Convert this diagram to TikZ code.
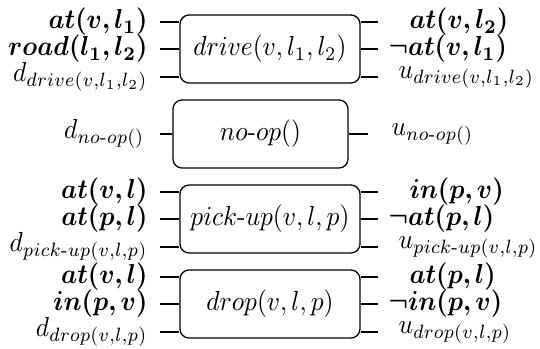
\documentclass[tikz,border=0pt]{standalone}
\usepackage{amsmath,amssymb,bm,graphicx}
\newcommand{\hy}{\text{-}}
\newcommand{\tx}[1]{\scalebox{0.98}[1.06]{$#1$}}
\begin{document}
\begin{tikzpicture}[x=0.385pt,y=-0.385pt,
  act/.style={draw, line width=0.5pt, rounded corners=3.5pt, inner sep=0pt, minimum height=26.2pt},
  lab/.style={inner sep=0pt},
  wire/.style={line width=0.5pt}]
\useasboundingbox (0,0) rectangle (540,348);
% drive
\node[act, minimum width=69.3pt] (drive) at (270,49) {\tx{drive(v,l_1,l_2)}};
\node[lab, anchor=east] (dl1) at (148,22) {\tx{\bm{at(v,l_1)}}};
\node[lab, anchor=east] (dl2) at (148,49) {\tx{\bm{road(l_1,l_2)}}};
\node[lab, anchor=east] (dl3) at (148,77) {\tx{d_{drive(v,l_1,l_2)}}};
\node[lab, anchor=west] (dr1) at (409,22) {\tx{\bm{at(v,l_2)}}};
\node[lab, anchor=west] (dr2) at (388,49) {\tx{\bm{\neg at(v,l_1)}}};
\node[lab, anchor=west] (dr3) at (398,77) {\tx{u_{drive(v,l_1,l_2)}}};
\foreach \n in {dl1,dl2,dl3} \draw[wire] ([xshift=12*0.385pt]\n.east) -- (drive.west |- \n.east);
\foreach \n in {dr1,dr2,dr3} \draw[wire] (drive.east |- \n.west) -- ++(17,0);
% no-op
\node[act, minimum width=67.4pt] (noop) at (260.5,134) {\tx{no\hy op()}};
\node[lab, anchor=east] (nl) at (145,134) {\tx{d_{no\hy op()}}};
\node[lab, anchor=west] (nr) at (391,134) {\tx{u_{no\hy op()}}};
\draw[wire] ([xshift=15*0.385pt]nl.east) -- (noop.west |- nl.east);
\draw[wire] (noop.east |- nr.west) -- ++(19,0);
% pick-up
\node[act, minimum width=69.3pt] (pick) at (270,219) {\tx{pick\hy up(v,l,p)}};
\node[lab, anchor=east] (pl1) at (148,192) {\tx{\bm{at(v,l)}}};
\node[lab, anchor=east] (pl2) at (148,219) {\tx{\bm{at(p,l)}}};
\node[lab, anchor=east] (pl3) at (148,247) {\tx{d_{pick\hy up(v,l,p)}}};
\node[lab, anchor=west] (pr1) at (409,192) {\tx{\bm{in(p,v)}}};
\node[lab, anchor=west] (pr2) at (388,219) {\tx{\bm{\neg at(p,l)}}};
\node[lab, anchor=west] (pr3) at (398,247) {\tx{u_{pick\hy up(v,l,p)}}};
\foreach \n in {pl1,pl2,pl3} \draw[wire] ([xshift=12*0.385pt]\n.east) -- (pick.west |- \n.east);
\foreach \n in {pr1,pr2,pr3} \draw[wire] (pick.east |- \n.west) -- ++(17,0);
% drop
\node[act, minimum width=69.3pt] (drop) at (270,304) {\tx{drop(v,l,p)}};
\node[lab, anchor=east] (ol1) at (148,277) {\tx{\bm{at(v,l)}}};
\node[lab, anchor=east] (ol2) at (148,304) {\tx{\bm{in(p,v)}}};
\node[lab, anchor=east] (ol3) at (148,332) {\tx{d_{drop(v,l,p)}}};
\node[lab, anchor=west] (or1) at (409,277) {\tx{\bm{at(p,l)}}};
\node[lab, anchor=west] (or2) at (388,304) {\tx{\bm{\neg in(p,v)}}};
\node[lab, anchor=west] (or3) at (398,332) {\tx{u_{drop(v,l,p)}}};
\foreach \n in {ol1,ol2,ol3} \draw[wire] ([xshift=12*0.385pt]\n.east) -- (drop.west |- \n.east);
\foreach \n in {or1,or2,or3} \draw[wire] (drop.east |- \n.west) -- ++(17,0);
\end{tikzpicture}
\end{document}
